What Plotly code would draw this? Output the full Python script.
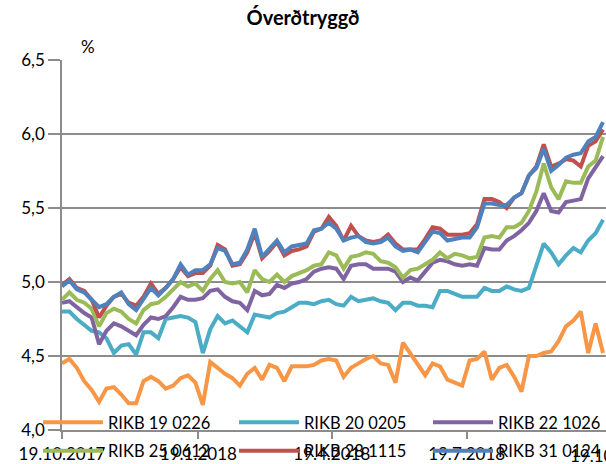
import plotly.graph_objects as go
import pandas as pd

# Observation dates (every 5 days, 19.10.2017 - 19.10.2018)
dates = pd.date_range("2017-10-19", periods=74, freq="5D")

names = ["RIKB 19 0226", "RIKB 20 0205", "RIKB 22 1026",
         "RIKB 25 0612", "RIKB 28 1115", "RIKB 31 0124"]

rikb19 = [4.45, 4.48, 4.42, 4.33, 4.27, 4.19, 4.28, 4.29, 4.24, 4.18, 4.18, 4.33, 4.36, 4.33, 4.28, 4.30,
          4.35, 4.37, 4.32, 4.17, 4.46, 4.42, 4.38, 4.35, 4.30,
          4.38, 4.42, 4.34, 4.44, 4.42, 4.33, 4.43, 4.43, 4.43, 4.44, 4.47, 4.48, 4.47, 4.36, 4.42, 4.45,
          4.48, 4.50, 4.45, 4.44, 4.32, 4.59, 4.52,
          4.45, 4.37, 4.45, 4.43, 4.34, 4.32, 4.30, 4.47, 4.48, 4.53, 4.34, 4.42, 4.44, 4.36, 4.26, 4.50,
          4.50, 4.52, 4.53, 4.60, 4.70, 4.74, 4.80, 4.52, 4.72, 4.52]

rikb20 = [4.80, 4.80, 4.75, 4.71, 4.67, 4.66, 4.62, 4.52, 4.57, 4.58, 4.51, 4.66, 4.66, 4.62, 4.75, 4.76,
          4.77, 4.76, 4.73, 4.52, 4.68, 4.77, 4.72, 4.74, 4.70,
          4.66, 4.78, 4.77, 4.76, 4.79, 4.80, 4.83, 4.86, 4.86, 4.85, 4.87, 4.88, 4.85, 4.84, 4.90, 4.87,
          4.88, 4.89, 4.87, 4.86, 4.81, 4.86, 4.86,
          4.84, 4.84, 4.83, 4.94, 4.94, 4.92, 4.90, 4.90, 4.90, 4.96, 4.94, 4.94, 4.97, 4.95, 4.94, 4.96,
          5.10, 5.26, 5.20, 5.12, 5.18, 5.23, 5.20, 5.28, 5.33, 5.42]

rikb22 = [4.86, 4.87, 4.83, 4.79, 4.76, 4.58, 4.67, 4.72, 4.70, 4.67, 4.64, 4.71, 4.76, 4.75, 4.77, 4.83,
          4.90, 4.88, 4.88, 4.89, 4.94, 4.95, 4.90, 4.87, 4.86,
          4.81, 4.94, 4.91, 4.92, 4.98, 4.96, 4.99, 5.00, 5.02, 5.07, 5.09, 5.10, 5.09, 5.02, 5.11, 5.12,
          5.12, 5.09, 5.09, 5.09, 5.07, 5.00, 5.03,
          5.01, 5.07, 5.13, 5.15, 5.14, 5.12, 5.11, 5.12, 5.11, 5.23, 5.22, 5.22, 5.28, 5.31, 5.35, 5.40,
          5.48, 5.60, 5.48, 5.47, 5.54, 5.55, 5.56, 5.70, 5.78, 5.85]

rikb25 = [4.88, 4.93, 4.88, 4.86, 4.82, 4.70, 4.79, 4.82, 4.80, 4.75, 4.72, 4.81, 4.85, 4.86, 4.90, 4.95,
          5.00, 4.97, 4.99, 4.94, 5.02, 5.08, 5.00, 4.99, 5.00,
          4.93, 5.08, 5.02, 5.00, 5.05, 5.00, 5.04, 5.06, 5.08, 5.11, 5.12, 5.20, 5.18, 5.09, 5.17, 5.18,
          5.20, 5.19, 5.14, 5.13, 5.10, 5.03, 5.08,
          5.09, 5.12, 5.15, 5.20, 5.16, 5.19, 5.18, 5.16, 5.17, 5.30, 5.31, 5.30, 5.37, 5.37, 5.40, 5.48,
          5.61, 5.80, 5.64, 5.56, 5.68, 5.67, 5.67, 5.78, 5.82, 5.98]

rikb28 = [4.98, 5.02, 4.96, 4.94, 4.88, 4.76, 4.84, 4.90, 4.92, 4.86, 4.84, 4.90, 4.99, 4.92, 4.96, 5.02,
          5.10, 5.04, 5.06, 5.06, 5.11, 5.25, 5.22, 5.11, 5.12,
          5.20, 5.33, 5.16, 5.21, 5.27, 5.18, 5.21, 5.22, 5.24, 5.34, 5.36, 5.44, 5.38, 5.28, 5.38, 5.31,
          5.28, 5.27, 5.28, 5.32, 5.26, 5.22, 5.22,
          5.22, 5.29, 5.37, 5.36, 5.32, 5.32, 5.32, 5.33, 5.39, 5.56, 5.56, 5.54, 5.50, 5.57, 5.60, 5.72,
          5.78, 5.93, 5.78, 5.80, 5.83, 5.82, 5.78, 5.92, 5.95, 6.03]

rikb31 = [4.97, 5.01, 4.95, 4.93, 4.88, 4.83, 4.85, 4.90, 4.93, 4.85, 4.81, 4.89, 4.96, 4.91, 4.96, 5.02,
          5.12, 5.05, 5.08, 5.08, 5.12, 5.23, 5.21, 5.12, 5.13,
          5.22, 5.36, 5.17, 5.23, 5.28, 5.20, 5.24, 5.25, 5.26, 5.35, 5.36, 5.40, 5.36, 5.28, 5.30, 5.31,
          5.27, 5.26, 5.27, 5.30, 5.24, 5.21, 5.22,
          5.20, 5.27, 5.34, 5.33, 5.28, 5.29, 5.30, 5.30, 5.37, 5.53, 5.53, 5.52, 5.52, 5.57, 5.60, 5.72,
          5.77, 5.90, 5.75, 5.79, 5.84, 5.86, 5.87, 5.95, 5.98, 6.08]

tick_vals = ["2017-10-19", "2018-01-19", "2018-04-19", "2018-07-19"]
tick_text = ["19.10.2017", "19.1.2018", "19.4.2018", "19.7.2018"]
last_tick_val = "2018-10-19"
last_tick_text = "19.10.2018"

series = [rikb19, rikb20, rikb22, rikb25, rikb28, rikb31]
colors = ["#F79646", "#4BACC6", "#8064A2", "#9BBB59", "#C0504D", "#4F81BD"]
legend_ids = ["legend", "legend2", "legend3", "legend", "legend2", "legend3"]

FONT = "Lato, sans-serif"
GRID = "#8c8c8c"

fig = go.Figure()
for name, vals, col, lg in zip(names, series, colors, legend_ids):
    fig.add_trace(go.Scatter(x=dates, y=vals, mode="lines", name=name,
                             legendgroup=name, legend=lg,
                             line=dict(color=col, width=4)))

W, H = 606, 464
L, R, T, B = 62, 0, 60, 34
pw, ph = W - L - R, H - T - B

def px_x(x):
    return (x - L) / pw

def px_y(y):
    return (H - B - y) / ph

legend_common = dict(orientation="v", xanchor="left", yanchor="top",
                     bgcolor="rgba(0,0,0,0)", borderwidth=0,
                     font=dict(family=FONT, size=16.5, color="#000000"),
                     itemwidth=60, tracegroupgap=4, itemclick=False)

fig.update_layout(
    width=W, height=H,
    margin=dict(l=L, r=R, t=T, b=B, autoexpand=False),
    paper_bgcolor="white", plot_bgcolor="white",
    separators=", ",
    font=dict(family=FONT, size=16, color="#000000"),
    title=dict(text="<b>Óverðtryggð</b>", x=0.5, xref="container", xanchor="center",
               y=1 - 18 / H, yref="container", yanchor="middle",
               font=dict(family=FONT, size=20, color="#000000")),
    legend=dict(x=px_x(38), y=px_y(405), **legend_common),
    legend2=dict(x=px_x(234), y=px_y(405), **legend_common),
    legend3=dict(x=px_x(428), y=px_y(405), **legend_common),
    xaxis=dict(type="date", range=["2017-10-19", "2018-10-21"],
               tickvals=tick_vals, ticktext=tick_text, automargin=False,
               showgrid=False, showline=True, linecolor=GRID, linewidth=1.5,
               ticks="outside", ticklen=7, tickcolor=GRID, tickwidth=1.5,
               ticklabelstandoff=1,
               tickfont=dict(family=FONT, size=17, color="#000000"), zeroline=False),
    yaxis=dict(range=[4.0, 6.5], dtick=0.5, tick0=4.0, tickformat=".1f", automargin=False,
               showgrid=True, gridcolor=GRID, gridwidth=1.5,
               showline=True, linecolor=GRID, linewidth=1.5,
               ticks="outside", ticklen=12, tickcolor=GRID, tickwidth=1.5,
               tickfont=dict(family=FONT, size=17, color="#000000"), zeroline=False),
    annotations=[
        dict(text="%", x=px_x(88), y=px_y(47), xref="paper", yref="paper",
             showarrow=False, xanchor="center", yanchor="middle",
             font=dict(family=FONT, size=17, color="#000000")),
        dict(text=last_tick_text, x=last_tick_val, y=px_y(455), xref="x", yref="paper",
             showarrow=False, xanchor="center", yanchor="middle", xshift=10,
             font=dict(family=FONT, size=17, color="#000000")),
    ],
)

fig.write_html("out.html", config={"displayModeBar": False},
               post_script="document.body.style.margin='0';document.body.style.overflow='hidden';")
